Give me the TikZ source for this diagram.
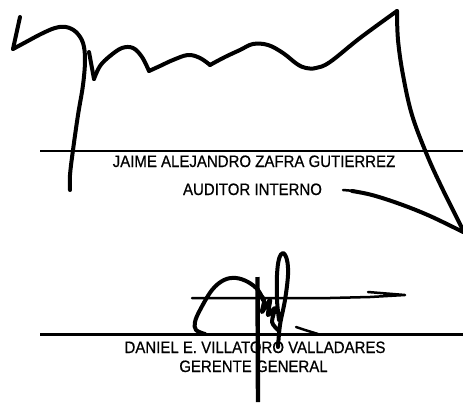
\documentclass[tikz,border=0pt]{standalone}
\usepackage{fontspec}
\setmainfont{Liberation Sans}[FakeBold=0.6]
\begin{document}
\begin{tikzpicture}[x=1pt,y=-1pt,
  rule/.style={line width=2.7pt},
  sig/.style={line width=4pt,line cap=round,line join=round},
  thin sig/.style={line width=2.5pt,line cap=round,line join=round},
  label/.style={anchor=base,inner sep=0pt,font=\fontsize{15}{18}\selectfont}]
\fill[white] (0,0) rectangle (463,402);
\useasboundingbox (0,0) rectangle (463,402);
% signature lines
\draw[rule] (40,151) -- (463,151);
\draw[rule] (40,334.5) -- (463,334.5);
% texts
\node[label] (t1) at (254,167) {\scalebox{1}[1.1]{JAIME ALEJANDRO ZAFRA GUTIERREZ}};
\node[label] (t2) at (252.5,195) {\scalebox{1}[1.1]{AUDITOR INTERNO}};
\node[label] (t3) at (255,353) {\scalebox{1}[1.1]{DANIEL E. VILLATORO VALLADARES}};
\node[label] (t4) at (253.5,372) {\scalebox{1}[1.1]{GERENTE GENERAL}};
% top signature
\draw[sig] (20,17) -- (13,49);
\draw[sig] plot[smooth,tension=0.6] coordinates {(13,49) (26,42) (41,34) (55,28) (66,27) (76,32) (83,43) (85,60) (83,85) (78,115) (73,150) (70,175) (70,190)};
\draw[sig] (89,52) -- (94,79);
\draw[sig] plot[smooth,tension=0.6] coordinates {(94,79) (100,66) (110,56) (122,48) (133,48) (142,57) (149,71)};
\draw[sig] plot[smooth,tension=0.6] coordinates {(149,71) (160,66) (173,60) (188,55) (200,58) (210,65)};
\draw[sig] plot[smooth,tension=0.6] coordinates {(210,65) (225,57) (240,50) (253,44) (268,45) (283,53) (297,64) (306,68) (316,68) (330,62) (360,38) (397,11)};
\draw[sig] plot[smooth,tension=0.6] coordinates {(397,11) (398,40) (403,75) (412,115) (427,155) (443,190) (463,230)};
\draw[thin sig] (343,190) -- (355,191);
\draw[sig] plot[smooth,tension=0.6] coordinates {(352,191) (372,195) (400,204) (430,216) (463,232)};
% bottom signature
\draw[line width=4.4pt] (257.5,277) -- (258,402);
\draw[sig] plot[smooth,tension=0.6] coordinates {(205,334) (196,330) (195,322) (200,310) (212,290) (224,280) (236,278) (248,282) (258,290) (263,300)};
\draw[thin sig] (192,298) -- (330,298) -- (370,297) -- (405,295) -- (368,292);
\draw[sig] plot[smooth,tension=0.6] coordinates {(278,347) (280,325) (285,300) (288,275) (287,260) (283,253) (279,259) (277,275) (277,300) (279,320)};
\draw[sig] plot[smooth,tension=0.5] coordinates {(258,292) (264,300) (262,312) (270,300) (268,315) (275,308) (272,322) (278,330)};
\draw[thin sig] (296,327) -- (305,330) -- (318,334);
\end{tikzpicture}
\end{document}
